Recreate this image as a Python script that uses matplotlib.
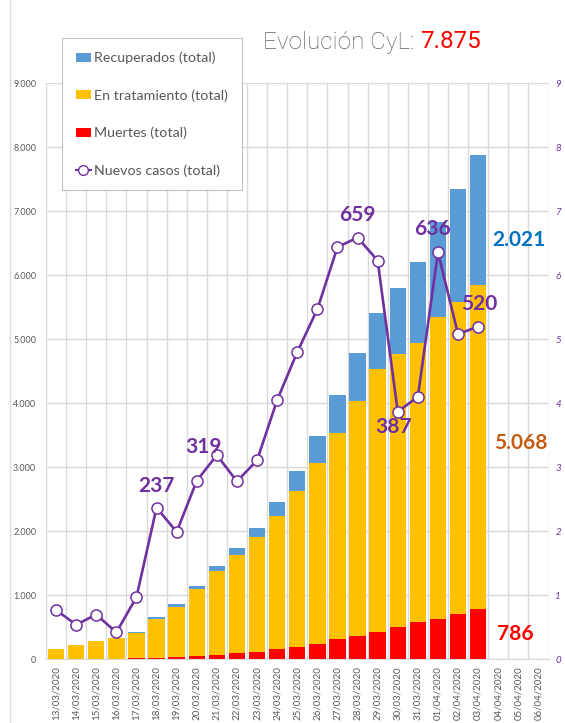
import numpy as np
import matplotlib
matplotlib.use("Agg")
import matplotlib.pyplot as plt
from matplotlib.patches import Patch
from matplotlib.lines import Line2D

plt.rcParams['font.family'] = ['Lato', 'DejaVu Sans']

# --- datos ---
fechas = ["13/03/2020", "14/03/2020", "15/03/2020", "16/03/2020", "17/03/2020",
          "18/03/2020", "19/03/2020", "20/03/2020", "21/03/2020", "22/03/2020",
          "23/03/2020", "24/03/2020", "25/03/2020", "26/03/2020", "27/03/2020",
          "28/03/2020", "29/03/2020", "30/03/2020", "31/03/2020", "01/04/2020",
          "02/04/2020", "03/04/2020", "04/04/2020", "05/04/2020", "06/04/2020"]
muertes = [0, 0, 0, 2, 15, 25, 42, 52, 73, 99, 120, 167, 197, 244, 317, 370,
           432, 505, 578, 630, 713, 786]
tratamiento = [166, 219, 286, 331, 392, 606, 782, 1042, 1307, 1526, 1791, 2067,
               2433, 2819, 3224, 3666, 4104, 4266, 4370, 4714, 4875, 5068]
recuperados = [0, 0, 0, 0, 20, 30, 40, 52, 83, 115, 141, 219, 308, 426, 589,
               755, 875, 1031, 1260, 1494, 1760, 2021]
nuevos = [77, 54, 70, 42, 97, 237, 199, 279, 319, 278, 311, 405, 480, 547, 644,
          659, 623, 387, 410, 636, 508, 520]
etiquetas_nuevos = [5, 8, 15, 17, 19, 21]   # puntos con etiqueta
total_casos = 7875

AZUL = '#5B9BD5'
AMARILLO = '#FFC000'
ROJO = '#FF0000'
MORADO = '#7030A0'
GRIS = '#595959'
REJILLA = '#D9D9D9'


def miles(v):
    return f"{v:,}".replace(',', '.')


n = len(muertes)
x = np.arange(len(fechas))
m = np.array(muertes)
t = np.array(tratamiento)
r = np.array(recuperados)

fig = plt.figure(figsize=(5.65, 7.23), dpi=100)

# borde izquierdo del grafico
fig.add_artist(Line2D([10 / 565, 10 / 565], [0, 1], color=REJILLA, lw=1,
                      transform=fig.transFigure, zorder=-1))

ax = fig.add_axes([46 / 565, 1 - 659.3 / 723, 502.5 / 565, 576 / 723])

ax.bar(x[:n], m, width=0.82, color=ROJO, zorder=2)
ax.bar(x[:n], t, width=0.82, bottom=m, color=AMARILLO, zorder=2)
ax.bar(x[:n], r, width=0.82, bottom=m + t, color=AZUL, zorder=2)

ax.set_xlim(-0.5, len(fechas) - 0.5)
ax.set_ylim(0, 9000)
yt = np.arange(0, 9001, 1000)
ax.set_yticks(yt)
ax.set_yticklabels([miles(v) for v in yt], fontsize=6.5, color=GRIS)
ax.set_xticks(x)
ax.set_xticklabels(fechas, rotation=90, fontsize=7, color=GRIS)
ax.set_xticks(np.arange(-0.5, len(fechas)), minor=True)
ax.tick_params(axis='both', which='both', length=0)
ax.tick_params(axis='y', pad=7)
ax.tick_params(axis='x', pad=5)
ax.set_axisbelow(True)
ax.yaxis.grid(True, color=REJILLA, lw=1)
ax.xaxis.grid(True, which='minor', color=REJILLA, lw=1)
for s in ['top', 'right', 'left']:
    ax.spines[s].set_visible(False)
ax.spines['bottom'].set_color(REJILLA)

# etiquetas del ultimo dia
ult = n - 1
ax.annotate(miles(recuperados[ult]),
            xy=(x[ult], m[ult] + t[ult] + r[ult] / 2), xytext=(41, -20),
            textcoords='offset pixels', ha='center', va='center',
            fontsize=15, fontweight='bold', color='#0070C0')
ax.annotate(miles(tratamiento[ult]),
            xy=(x[ult], m[ult] + t[ult] / 2), xytext=(43, 4),
            textcoords='offset pixels', ha='center', va='center',
            fontsize=15, fontweight='bold', color='#C55A11')
ax.annotate(str(muertes[ult]),
            xy=(x[ult], m[ult] / 2), xytext=(37, 0),
            textcoords='offset pixels', ha='center', va='center',
            fontsize=15, fontweight='bold', color=ROJO)

# nuevos casos, eje secundario
ax2 = ax.twinx()
ax2.plot(x[:n], nuevos, color=MORADO, lw=1.9, marker='o', ms=8,
         mfc='white', mec=MORADO, mew=1.1, zorder=3)
ax2.set_ylim(0, 900)
ax2.set_yticks(np.arange(0, 901, 100))
ax2.set_yticklabels([str(v // 100) for v in range(0, 901, 100)],
                    fontsize=7, color=MORADO, style='italic')
ax2.tick_params(axis='y', length=0, pad=5)
for s in ax2.spines.values():
    s.set_visible(False)

desplaz = {5: (0, 22), 8: (-13, 8), 15: (0, 23), 17: (-4, -15), 19: (-5, 23), 21: (1, 23)}
for i in etiquetas_nuevos:
    ax2.annotate(str(nuevos[i]), xy=(x[i], nuevos[i]), xytext=desplaz[i],
                 textcoords='offset pixels', ha='center', va='center',
                 fontsize=15, fontweight='bold', color=MORADO, zorder=4)

# leyenda
handles = [Patch(facecolor=AZUL), Patch(facecolor=AMARILLO), Patch(facecolor=ROJO),
           Line2D([], [], color=MORADO, lw=1.5, marker='o', ms=7, mfc='white', mec=MORADO)]
labels = ["Recuperados (total)", "En tratamiento (total)", "Muertes (total)",
          "Nuevos casos (total)"]
leg = fig.legend(handles, labels, loc='upper left', bbox_to_anchor=(62 / 565, 1 - 38 / 723),
                 borderaxespad=0, frameon=True, fancybox=False, edgecolor='#BFBFBF',
                 framealpha=1, fontsize=10.3, labelspacing=1.75, handlelength=1.1,
                 handleheight=0.6, handletextpad=0.2, borderpad=0.95, labelcolor=GRIS)
leg.get_frame().set_linewidth(0.8)

# titulo
tit = fig.text(263 / 565, 1 - 42 / 723, "Evolución CyL: ", fontsize=17.5,
               family=['Roboto', 'DejaVu Sans'], fontweight='light', color='#606060',
               ha='left', va='center')
ax.annotate(miles(total_casos), xy=(1, 0), xycoords=tit,
            ha='left', va='bottom', fontsize=17.5, family=['Roboto', 'DejaVu Sans'],
            color=ROJO, annotation_clip=False)

fig.savefig("out.png", dpi=100)
